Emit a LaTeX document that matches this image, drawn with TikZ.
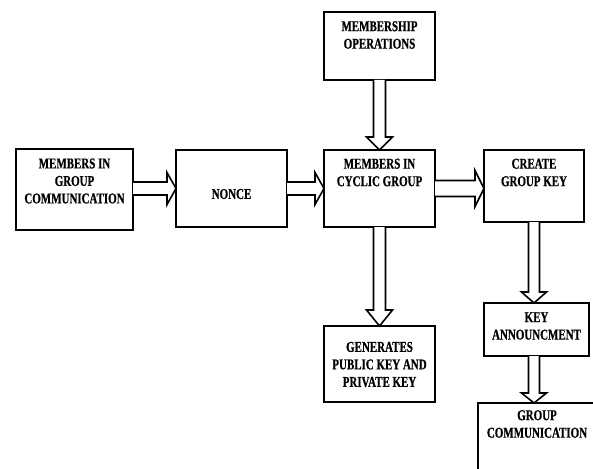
\documentclass[tikz,border=0pt]{standalone}
\usepackage{fontspec}
\newfontfamily\labfont{Liberation Serif}[FakeStretch=0.73, BoldFeatures={FakeBold=0.6}]
\usetikzlibrary{calc}
\tikzset{
  box/.style={draw=black, line width=1.7pt, rectangle, inner sep=0pt, outer sep=0pt, fill=white},
  lbl/.style={align=center, inner sep=0pt, font=\labfont\bfseries\fontsize{15}{17.5}\selectfont},
  arrowline/.style={draw=black, line width=1.6pt, line join=miter, fill=white}
}
\newcommand\hollowarrow[5]{%
  \coordinate (hs) at (#1);
  \coordinate (he) at (#2);
  \coordinate (hb) at ($(he)!#5!(hs)$);
  \draw[arrowline] ($(hs)!#3!90:(he)$) -- ($(hb)!#3!-90:(hs)$) -- ($(hb)!#4!-90:(hs)$) -- (he)
     -- ($(hb)!#4!90:(hs)$) -- ($(hb)!#3!90:(hs)$) -- ($(hs)!#3!-90:(he)$);
}
\begin{document}
\begin{tikzpicture}[x=1pt,y=-1pt]
\useasboundingbox (0,0) rectangle (593,468);
\clip (0,0) rectangle (593,468);
\fill[white] (0,0) rectangle (593,468);
% boxes
\node[box, minimum width=117pt, minimum height=81pt] (mgc) at (74.5,189.5) {};
\node[box, minimum width=111pt, minimum height=77pt] (non) at (231.5,188.5) {};
\node[box, minimum width=111pt, minimum height=68pt] (mop) at (379.5,46) {};
\node[box, minimum width=111pt, minimum height=77pt] (mcg) at (379.5,188.5) {};
\node[box, minimum width=100pt, minimum height=72pt] (cgk) at (534,186) {};
\node[box, minimum width=111pt, minimum height=76pt] (gen) at (379.5,364) {};
\node[box, minimum width=105pt, minimum height=53pt] (ka) at (536.5,329.5) {};
\node[box, minimum width=132pt, minimum height=77pt] (gc) at (544,441.5) {};
% labels
\node[lbl] (tmgc) at (74.5,181) {MEMBERS IN\\GROUP\\COMMUNICATION};
\node[lbl] (tnon) at (231.5,194) {NONCE};
\node[lbl] (tmop) at (379.5,35) {MEMBERSHIP\\OPERATIONS};
\node[lbl] (tmcg) at (379.5,172.5) {MEMBERS IN\\CYCLIC GROUP};
\node[lbl] (tcgk) at (534,172.5) {CREATE\\GROUP KEY};
\node[lbl] (tgen) at (379.5,364.5) {GENERATES\\PUBLIC KEY AND\\PRIVATE KEY};
\node[lbl] (tka) at (536.5,326) {KEY\\ANNOUNCMENT};
\node[lbl] (tgc) at (537,424) {GROUP\\COMMUNICATION};
% arrows
\hollowarrow{non.west -| mgc.east}{non.west}{6.5pt}{16pt}{9pt}
\hollowarrow{non.east}{non.east -| mcg.west}{6.5pt}{16pt}{9pt}
\hollowarrow{mcg.east}{mcg.east -| cgk.west}{8pt}{18pt}{9pt}
\hollowarrow{mop.south}{mcg.north}{6pt}{13pt}{13pt}
\hollowarrow{mcg.south}{gen.north}{6pt}{13pt}{16pt}
\hollowarrow{cgk.south}{cgk.south |- ka.north}{5.5pt}{12.5pt}{11pt}
\hollowarrow{cgk.south |- ka.south}{cgk.south |- gc.north}{5.5pt}{12.5pt}{10pt}
\end{tikzpicture}
\end{document}
